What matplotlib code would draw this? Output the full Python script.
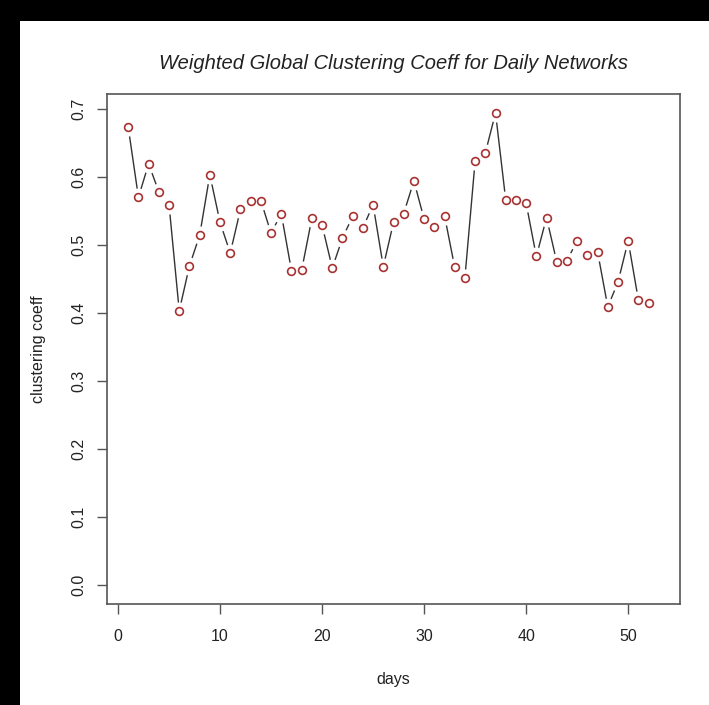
import matplotlib
matplotlib.use("Agg")
import matplotlib.pyplot as plt
from matplotlib.patches import Rectangle

days = list(range(1, 53))
coeff = [0.673, 0.570, 0.619, 0.578, 0.559, 0.403, 0.469, 0.514, 0.603, 0.533,
         0.488, 0.552, 0.565, 0.565, 0.517, 0.546, 0.462, 0.463, 0.539, 0.529,
         0.466, 0.510, 0.542, 0.525, 0.559, 0.468, 0.533, 0.546, 0.594, 0.538,
         0.526, 0.543, 0.467, 0.452, 0.623, 0.635, 0.694, 0.566, 0.566, 0.561,
         0.483, 0.540, 0.475, 0.477, 0.506, 0.485, 0.490, 0.409, 0.445, 0.506,
         0.419, 0.414]
xticks = [0, 10, 20, 30, 40, 50]
yticks = [0.0, 0.1, 0.2, 0.3, 0.4, 0.5, 0.6, 0.7]
ytick_labels = ["0.0", "0.1", "0.2", "0.3", "0.4", "0.5", "0.6", "0.7"]

plt.rcParams['font.family'] = ['Liberation Sans', 'DejaVu Sans']

fig = plt.figure(figsize=(7.09, 7.05), dpi=100, facecolor='white')
# black strips along top and left edges
fig.patches.append(Rectangle((0, 1 - 21/705), 1, 21/705, transform=fig.transFigure,
                             facecolor='black', edgecolor='none', zorder=0))
fig.patches.append(Rectangle((0, 0), 20/709, 1, transform=fig.transFigure,
                             facecolor='black', edgecolor='none', zorder=0))

ax = fig.add_axes([107/709, 101/705, 573/709, 510/705])
ax.plot(days, coeff, color='#333333', lw=1.0, zorder=1)
ax.plot(days, coeff, linestyle='none', marker='o', markersize=13,
        markerfacecolor='white', markeredgecolor='none', zorder=2)
ax.plot(days, coeff, linestyle='none', marker='o', markersize=5.6,
        markerfacecolor='white', markeredgecolor='#A83232', markeredgewidth=1.2, zorder=3)

ax.set_xlim(-1.08, 55.08)
ax.set_ylim(-0.0278, 0.7217)
ax.set_xticks(xticks)
ax.set_yticks(yticks)
ax.set_yticklabels(ytick_labels, rotation=90, va='center')
for s in ax.spines.values():
    s.set_color('#555555')
    s.set_linewidth(1.2)
ax.tick_params(axis='both', length=7, width=1.0, color='#555555',
               labelsize=11.5, labelcolor='#222222')
ax.tick_params(axis='x', pad=11)
ax.tick_params(axis='y', pad=8)

ax.set_xlabel('days', fontsize=11.5, color='#222222', labelpad=20)
ax.set_ylabel('clustering coeff', fontsize=11.5, color='#222222', labelpad=18)
ax.set_title('Weighted Global Clustering Coeff for Daily Networks',
             fontsize=14.5, style='italic', color='#222222', pad=18)

fig.savefig('out.png', dpi=100, facecolor='white')
